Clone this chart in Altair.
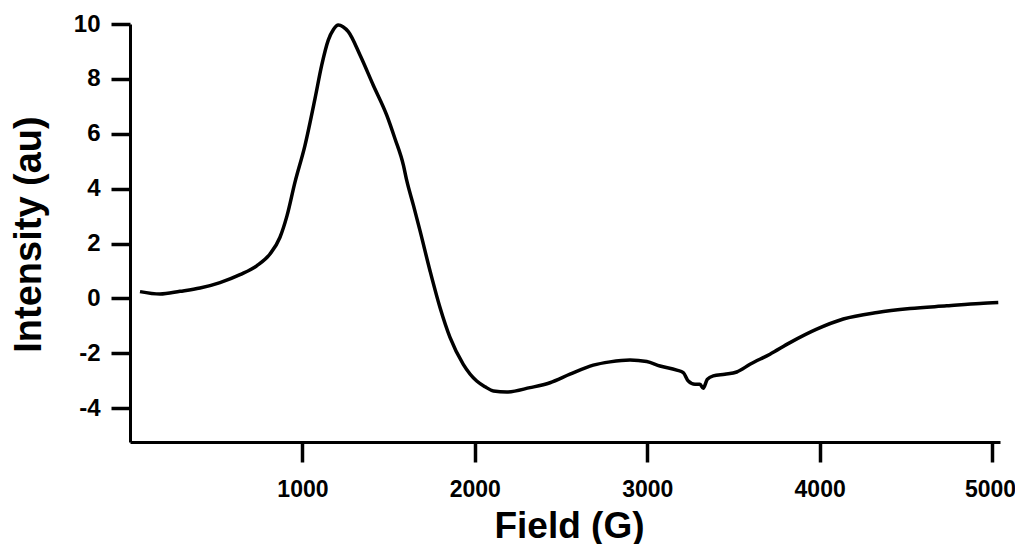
import altair as alt
import pandas as pd

# Field (G) and intensity (au)
field = [58, 174, 290, 406, 522, 638, 735, 812, 870, 910, 957, 1015, 1073, 1112,
         1150, 1180, 1208, 1235, 1266, 1334, 1411, 1489, 1537, 1586, 1605, 1644, 1682,
         1740, 1798, 1856, 1933, 2011, 2060, 2108, 2185, 2320, 2436, 2552, 2687, 2784,
         2900, 2997, 3074, 3171, 3209, 3238, 3277, 3306, 3325, 3348, 3383, 3450, 3519,
         3596, 3712, 3828, 3983, 4137, 4334, 4524, 4737, 4930, 5036]
intensity = [0.25, 0.16, 0.26, 0.38, 0.58, 0.87, 1.19, 1.62, 2.23, 3.0, 4.24,
             5.58, 7.28, 8.5, 9.41, 9.80, 9.96, 9.90, 9.72, 8.87, 7.77, 6.68, 5.82,
             4.85, 4.30, 3.39, 2.47, 1.01, -0.33, -1.42, -2.40, -3.01, -3.22, -3.37,
             -3.41, -3.25, -3.07, -2.76, -2.43, -2.31, -2.24, -2.30, -2.46, -2.61,
             -2.70, -3.01, -3.13, -3.13, -3.27, -2.95, -2.82, -2.76, -2.68, -2.40,
             -2.03, -1.61, -1.12, -0.75, -0.51, -0.37, -0.27, -0.18, -0.15]

x_ticks = [1000, 2000, 3000, 4000, 5000]
y_ticks = [-4, -2, 0, 2, 4, 6, 8, 10]

df = pd.DataFrame({"field": field, "intensity": intensity})

FONT = "Liberation Sans"

chart = alt.Chart(df).mark_line(
    color="black", strokeWidth=3.5, interpolate="monotone"
).encode(
    x=alt.X(
        "field:Q",
        scale=alt.Scale(domain=[0, 5046], nice=False, zero=False),
        axis=alt.Axis(
            title="Field (G)",
            values=x_ticks,
            format="d",
            grid=False,
            domainColor="black",
            domainWidth=3,
            tickColor="black",
            tickWidth=3.5,
            tickSize=20,
            labelPadding=16,
            labelFont=FONT,
            labelFontSize=23,
            labelFontWeight="bold",
            labelColor="black",
            labelOffset=alt.condition("datum.value == 5000", alt.value(-2), alt.value(0)),
            titleFont=FONT,
            titleFontSize=37,
            titleFontWeight="bold",
            titleColor="black",
            titleX=439,
            titleY=95,
            titleBaseline="alphabetic",
            titleAlign="center",
        ),
    ),
    y=alt.Y(
        "intensity:Q",
        scale=alt.Scale(domain=[-5.23, 10], nice=False, zero=False),
        axis=alt.Axis(
            title="Intensity (au)",
            values=y_ticks,
            labelExpr="replace(datum.label, '\u2212', '-')",
            grid=False,
            domainColor="black",
            domainWidth=3,
            tickColor="black",
            tickWidth=3.5,
            tickSize=19,
            labelPadding=11,
            labelFont=FONT,
            labelFontSize=24,
            labelFontWeight="bold",
            labelColor="black",
            titleFont=FONT,
            titleFontSize=38,
            titleFontWeight="bold",
            titleColor="black",
            titleAngle=270,
            titleX=-90,
            titleY=210,
            titleBaseline="alphabetic",
            titleAlign="center",
        ),
    ),
).properties(
    width=870,
    height=418,
    autosize=alt.AutoSizeParams(type="none"),
    padding={"left": 122, "top": 16, "right": 15, "bottom": 102},
).configure_view(stroke=None)

chart.save("out.html", embed_options={"renderer": "svg", "actions": False})
